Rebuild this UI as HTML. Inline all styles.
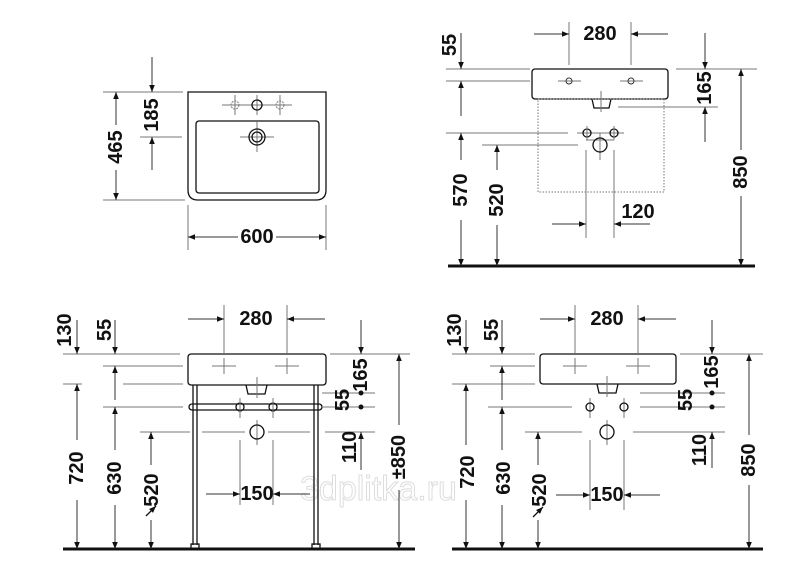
<!DOCTYPE html>
<html><head><meta charset="utf-8"><style>
html,body{margin:0;padding:0;background:#fff}
svg{display:block}
text{font-family:"Liberation Sans",sans-serif;font-weight:bold;font-size:20px;fill:#111}
.t{text-anchor:middle;dominant-baseline:central}
.l{stroke:#333;stroke-width:1;fill:none}
.g{stroke:#777;stroke-width:1;fill:none}
.k{stroke:#111;stroke-width:1.3;fill:none}
</style></head><body>
<svg width="800" height="585" viewBox="0 0 800 585" xmlns="http://www.w3.org/2000/svg">
<defs>
<marker id="a" viewBox="0 0 10 10" refX="10" refY="5" markerWidth="9" markerHeight="7" orient="auto-start-reverse" markerUnits="userSpaceOnUse"><path d="M0,1 L10,5 L0,9 z" fill="#111"/></marker>
</defs>

<!-- TOP LEFT -->
<path class="k" d="M188,92 H326 V190 Q326,200 316,200 H198 Q188,200 188,190 Z"/>
<rect class="k" x="196" y="121" width="123" height="72" rx="3"/>
<g class="g"><line x1="222" y1="105" x2="292" y2="105"/><line x1="235" y1="95" x2="235" y2="115"/><line x1="280" y1="95" x2="280" y2="115"/><line x1="257" y1="95" x2="257" y2="115"/><line x1="240" y1="137" x2="274" y2="137"/><line x1="257" y1="122" x2="257" y2="152"/></g>
<circle cx="235" cy="105" r="4" class="g" stroke-dasharray="2 1"/><circle cx="280" cy="105" r="4" class="g" stroke-dasharray="2 1"/>
<circle cx="257" cy="105" r="5" class="k"/>
<circle cx="257" cy="137" r="8" class="k"/><circle cx="257" cy="137" r="5" class="k"/>
<g class="g"><line x1="103" y1="92" x2="183" y2="92"/><line x1="103" y1="200" x2="185" y2="200"/><line x1="140" y1="137" x2="182" y2="137"/><line x1="188" y1="205" x2="188" y2="250"/><line x1="326" y1="205" x2="326" y2="250"/></g>
<line class="l" x1="116" y1="125" x2="116" y2="92" marker-end="url(#a)"/><line class="l" x1="116" y1="170" x2="116" y2="200" marker-end="url(#a)"/>
<text class="t" transform="rotate(-90 116 147)" x="116" y="147">465</text>
<line class="l" x1="152" y1="57" x2="152" y2="92" marker-end="url(#a)"/><line class="l" x1="152" y1="170" x2="152" y2="137" marker-end="url(#a)"/>
<text class="t" transform="rotate(-90 152 115)" x="152" y="115">185</text>
<line class="l" x1="238" y1="237" x2="188" y2="237" marker-end="url(#a)"/><line class="l" x1="276" y1="237" x2="326" y2="237" marker-end="url(#a)"/>
<text class="t" x="257" y="237">600</text>

<!-- TOP RIGHT -->
<rect class="k" x="532" y="69" width="136" height="30" rx="3"/>
<path class="k" d="M592,99 L594,108 H609 L611,99"/>
<line class="g" x1="601" y1="91" x2="601" y2="112"/>
<rect x="538" y="99" width="126" height="93" fill="none" stroke="#777" stroke-dasharray="1.5 1.5"/>
<g class="g"><line x1="558" y1="81" x2="581" y2="81"/><line x1="620" y1="81" x2="643" y2="81"/><line x1="577" y1="133" x2="624" y2="133"/><line x1="586" y1="140" x2="614" y2="140"/><line x1="600" y1="133" x2="600" y2="160"/></g>
<circle cx="569" cy="81" r="3" class="l"/><circle cx="631" cy="81" r="3" class="l"/>
<circle cx="587" cy="133" r="4" class="k"/><circle cx="614" cy="133" r="4" class="k"/>
<line class="g" x1="587" y1="126" x2="587" y2="140"/><line class="g" x1="614" y1="126" x2="614" y2="140"/>
<circle cx="600" cy="145" r="7" class="k"/>
<line x1="448" y1="266" x2="755" y2="266" stroke="#111" stroke-width="3"/>
<g class="g"><line x1="446" y1="69" x2="530" y2="69"/><line x1="676" y1="69" x2="757" y2="69"/><line x1="446" y1="81" x2="530" y2="81"/><line x1="618" y1="107" x2="718" y2="107"/><line x1="446" y1="133" x2="568" y2="133"/><line x1="482" y1="145" x2="578" y2="145"/><line x1="569" y1="22" x2="569" y2="65"/><line x1="631" y1="22" x2="631" y2="65"/><line x1="586" y1="150" x2="586" y2="238"/><line x1="614" y1="150" x2="614" y2="238"/></g>
<line class="l" x1="534" y1="34" x2="569" y2="34" marker-end="url(#a)"/><line class="l" x1="668" y1="34" x2="631" y2="34" marker-end="url(#a)"/>
<text class="t" x="600" y="34">280</text>
<line class="l" x1="461" y1="33" x2="461" y2="69" marker-end="url(#a)"/><line class="l" x1="461" y1="116" x2="461" y2="81" marker-end="url(#a)"/>
<text class="t" transform="rotate(-90 450 45)" x="450" y="45">55</text>
<line class="l" x1="461" y1="160" x2="461" y2="133" marker-end="url(#a)"/><line class="l" x1="461" y1="220" x2="461" y2="266" marker-end="url(#a)"/>
<text class="t" transform="rotate(-90 461 190)" x="461" y="190">570</text>
<line class="l" x1="497" y1="170" x2="497" y2="145" marker-end="url(#a)"/><line class="l" x1="497" y1="225" x2="497" y2="266" marker-end="url(#a)"/>
<text class="t" transform="rotate(-90 497 200)" x="497" y="200">520</text>
<line class="l" x1="552" y1="224" x2="586" y2="224" marker-end="url(#a)"/><line class="l" x1="650" y1="224" x2="614" y2="224" marker-end="url(#a)"/>
<text class="t" x="638" y="212">120</text>
<line class="l" x1="705" y1="33" x2="705" y2="69" marker-end="url(#a)"/><line class="l" x1="705" y1="142" x2="705" y2="107" marker-end="url(#a)"/>
<text class="t" transform="rotate(-90 705 88)" x="705" y="88">165</text>
<line class="l" x1="741" y1="150" x2="741" y2="69" marker-end="url(#a)"/><line class="l" x1="741" y1="196" x2="741" y2="266" marker-end="url(#a)"/>
<text class="t" transform="rotate(-90 741 172)" x="741" y="172">850</text>

<!-- watermark -->
<text x="300" y="500" style="font-weight:normal;font-size:34px;fill:none;stroke:#ddd;stroke-width:1">3dplitka.ru</text>

<!-- BOTTOM LEFT -->
<rect class="k" x="188" y="354" width="138" height="31" rx="3"/>
<path class="k" d="M246,385 L248,394 H265 L267,385"/>
<line class="g" x1="257" y1="377" x2="257" y2="398"/>
<g class="k"><line x1="193" y1="385" x2="193" y2="545"/><line x1="197" y1="385" x2="197" y2="545"/><line x1="314" y1="385" x2="314" y2="545"/><line x1="318" y1="385" x2="318" y2="545"/><rect x="191" y="544" width="8" height="5"/><rect x="312" y="544" width="8" height="5"/></g>
<rect x="189" y="404" width="133" height="6" rx="3" class="k"/>
<circle cx="240" cy="407" r="4" class="k"/><circle cx="273" cy="407" r="4" class="k"/>
<g class="g"><line x1="212" y1="366" x2="236" y2="366"/><line x1="224" y1="358" x2="224" y2="374"/><line x1="275" y1="366" x2="299" y2="366"/><line x1="287" y1="358" x2="287" y2="374"/><line x1="240" y1="398" x2="240" y2="418"/><line x1="273" y1="398" x2="273" y2="418"/><line x1="257" y1="420" x2="257" y2="445"/></g>
<circle cx="257" cy="432" r="7" class="k"/>
<line x1="63" y1="549" x2="415" y2="549" stroke="#111" stroke-width="3"/>
<g class="g"><line x1="63" y1="354" x2="180" y2="354"/><line x1="330" y1="354" x2="410" y2="354"/><line x1="103" y1="366" x2="183" y2="366"/><line x1="63" y1="384" x2="82" y2="384"/><line x1="123" y1="384" x2="183" y2="384"/><line x1="103" y1="407" x2="183" y2="407"/><line x1="322" y1="393" x2="375" y2="393"/><line x1="322" y1="407" x2="375" y2="407"/><line x1="140" y1="432" x2="190" y2="432"/><line x1="202" y1="432" x2="245" y2="432"/><line x1="268" y1="432" x2="310" y2="432"/><line x1="325" y1="432" x2="375" y2="432"/><line x1="224" y1="305" x2="224" y2="353"/><line x1="287" y1="305" x2="287" y2="353"/><line x1="240" y1="440" x2="240" y2="505"/><line x1="273" y1="440" x2="273" y2="505"/></g>
<line class="l" x1="188" y1="319" x2="224" y2="319" marker-end="url(#a)"/><line class="l" x1="325" y1="319" x2="287" y2="319" marker-end="url(#a)"/>
<text class="t" x="256" y="319">280</text>
<text class="t" transform="rotate(-90 65 330)" x="65" y="330">130</text>
<line class="l" x1="77" y1="320" x2="77" y2="354" marker-end="url(#a)"/>
<text class="t" transform="rotate(-90 105 330)" x="105" y="330">55</text>
<line class="l" x1="115" y1="320" x2="115" y2="354" marker-end="url(#a)"/>
<line class="l" x1="115" y1="400" x2="115" y2="366" marker-end="url(#a)"/>
<line class="l" x1="77" y1="440" x2="77" y2="384" marker-end="url(#a)"/><line class="l" x1="77" y1="500" x2="77" y2="549" marker-end="url(#a)"/>
<text class="t" transform="rotate(-90 77 468)" x="77" y="468">720</text>
<line class="l" x1="115" y1="450" x2="115" y2="407" marker-end="url(#a)"/><line class="l" x1="115" y1="505" x2="115" y2="549" marker-end="url(#a)"/>
<text class="t" transform="rotate(-90 115 478)" x="115" y="478">630</text>
<line class="l" x1="151" y1="465" x2="151" y2="432" marker-end="url(#a)"/><line class="l" x1="151" y1="520" x2="151" y2="549" marker-end="url(#a)"/>
<text class="t" transform="rotate(-90 152 490)" x="152" y="490">520</text>
<line class="k" x1="146" y1="516" x2="156" y2="506" stroke-width="2" marker-end="url(#a)"/>
<line class="l" x1="206" y1="494" x2="240" y2="494" marker-end="url(#a)"/><line class="l" x1="310" y1="494" x2="273" y2="494" marker-end="url(#a)"/>
<text class="t" x="257" y="494">150</text>
<line class="l" x1="361" y1="320" x2="361" y2="354" marker-end="url(#a)"/>
<text class="t" transform="rotate(-90 361 375)" x="361" y="375">165</text>
<circle cx="361" cy="393" r="2.5" fill="#111"/><circle cx="361" cy="407" r="2.5" fill="#111"/>
<text class="t" transform="rotate(-90 343 400)" x="343" y="400">55</text>
<line class="l" x1="361" y1="470" x2="361" y2="432" marker-end="url(#a)"/>
<text class="t" transform="rotate(-90 350 447)" x="350" y="447">110</text>
<line class="l" x1="399" y1="425" x2="399" y2="354" marker-end="url(#a)"/><line class="l" x1="399" y1="490" x2="399" y2="549" marker-end="url(#a)"/>
<text class="t" transform="rotate(-90 399 457)" x="399" y="457">±850</text>

<!-- BOTTOM RIGHT -->
<rect class="k" x="540" y="354" width="136" height="30" rx="3"/>
<path class="k" d="M597,384 L599,393 H616 L618,384"/>
<line class="g" x1="607" y1="376" x2="607" y2="397"/>
<g class="g"><line x1="563" y1="366" x2="587" y2="366"/><line x1="575" y1="358" x2="575" y2="374"/><line x1="626" y1="366" x2="650" y2="366"/><line x1="638" y1="358" x2="638" y2="374"/><line x1="590" y1="398" x2="590" y2="418"/><line x1="624" y1="398" x2="624" y2="418"/><line x1="607" y1="420" x2="607" y2="445"/><line x1="590" y1="440" x2="590" y2="510"/><line x1="624" y1="440" x2="624" y2="510"/><line x1="575" y1="305" x2="575" y2="353"/><line x1="638" y1="305" x2="638" y2="353"/></g>
<circle cx="590" cy="407" r="4" class="k"/><circle cx="624" cy="407" r="4" class="k"/>
<circle cx="607" cy="432" r="7" class="k"/>
<line x1="452" y1="549" x2="763" y2="549" stroke="#111" stroke-width="3"/>
<g class="g"><line x1="452" y1="354" x2="535" y2="354"/><line x1="680" y1="354" x2="763" y2="354"/><line x1="490" y1="366" x2="535" y2="366"/><line x1="452" y1="384" x2="535" y2="384"/><line x1="488" y1="407" x2="572" y2="407"/><line x1="640" y1="407" x2="725" y2="407"/><line x1="640" y1="393" x2="725" y2="393"/><line x1="525" y1="432" x2="582" y2="432"/><line x1="633" y1="432" x2="725" y2="432"/></g>
<line class="l" x1="540" y1="319" x2="575" y2="319" marker-end="url(#a)"/><line class="l" x1="676" y1="319" x2="638" y2="319" marker-end="url(#a)"/>
<text class="t" x="607" y="319">280</text>
<text class="t" transform="rotate(-90 455 330)" x="455" y="330">130</text>
<line class="l" x1="466" y1="320" x2="466" y2="354" marker-end="url(#a)"/>
<text class="t" transform="rotate(-90 492 330)" x="492" y="330">55</text>
<line class="l" x1="502" y1="320" x2="502" y2="354" marker-end="url(#a)"/>
<line class="l" x1="502" y1="400" x2="502" y2="366" marker-end="url(#a)"/>
<line class="l" x1="466" y1="445" x2="466" y2="384" marker-end="url(#a)"/><line class="l" x1="466" y1="500" x2="466" y2="549" marker-end="url(#a)"/>
<text class="t" transform="rotate(-90 468 472)" x="468" y="472">720</text>
<line class="l" x1="502" y1="450" x2="502" y2="407" marker-end="url(#a)"/><line class="l" x1="502" y1="505" x2="502" y2="549" marker-end="url(#a)"/>
<text class="t" transform="rotate(-90 504 478)" x="504" y="478">630</text>
<line class="l" x1="538" y1="465" x2="538" y2="432" marker-end="url(#a)"/><line class="l" x1="538" y1="520" x2="538" y2="549" marker-end="url(#a)"/>
<text class="t" transform="rotate(-90 540 490)" x="540" y="490">520</text>
<line class="k" x1="533" y1="517" x2="543" y2="507" stroke-width="2" marker-end="url(#a)"/>
<line class="l" x1="556" y1="495" x2="590" y2="495" marker-end="url(#a)"/><line class="l" x1="660" y1="495" x2="624" y2="495" marker-end="url(#a)"/>
<text class="t" x="607" y="495">150</text>
<line class="l" x1="712" y1="320" x2="712" y2="354" marker-end="url(#a)"/>
<text class="t" transform="rotate(-90 712 372)" x="712" y="372">165</text>
<circle cx="712" cy="393" r="2.5" fill="#111"/><circle cx="712" cy="407" r="2.5" fill="#111"/>
<text class="t" transform="rotate(-90 686 400)" x="686" y="400">55</text>
<line class="l" x1="712" y1="468" x2="712" y2="432" marker-end="url(#a)"/>
<text class="t" transform="rotate(-90 700 450)" x="700" y="450">110</text>
<line class="l" x1="749" y1="435" x2="749" y2="354" marker-end="url(#a)"/><line class="l" x1="749" y1="485" x2="749" y2="549" marker-end="url(#a)"/>
<text class="t" transform="rotate(-90 749 460)" x="749" y="460">850</text>
</svg>
</body></html>
